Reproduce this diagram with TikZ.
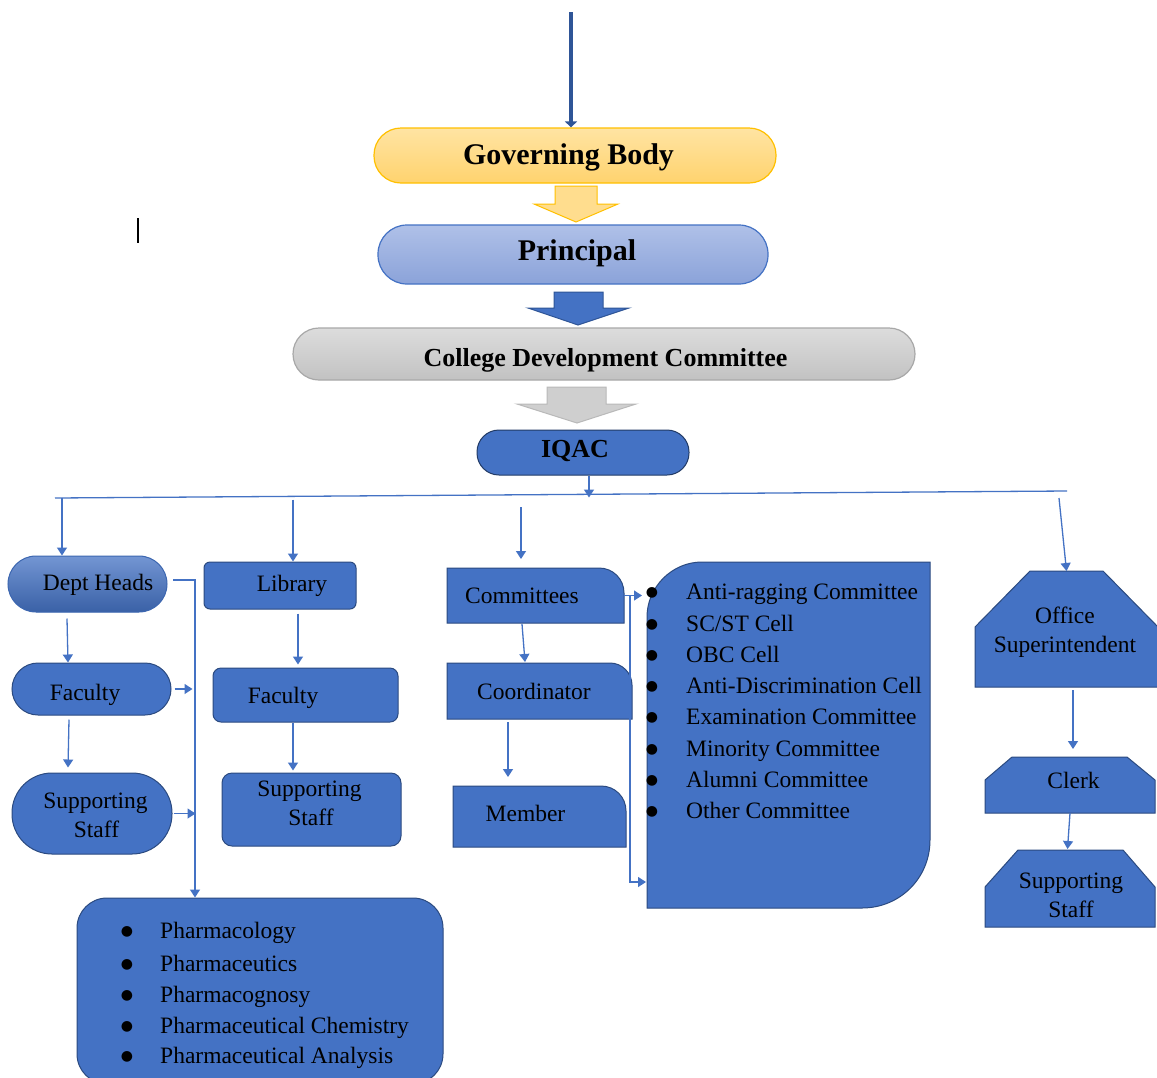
\documentclass[tikz,border=0pt]{standalone}
\usepackage{fontspec}
\setmainfont{Liberation Serif}
\newfontfamily\dejavu{DejaVu Sans}
\usetikzlibrary{arrows.meta,calc}
\definecolor{mblue}{HTML}{4472C4}
\definecolor{cblue}{HTML}{4472C4}
\definecolor{bdark}{HTML}{2B4A80}
\definecolor{navy}{HTML}{2F5597}
\definecolor{gbtop}{HTML}{FFE4A3}
\definecolor{gbbot}{HTML}{FFD36E}
\definecolor{gbline}{HTML}{FFC000}
\definecolor{prtop}{HTML}{AFC0E8}
\definecolor{prbot}{HTML}{8BA3D9}
\definecolor{cdtop}{HTML}{DCDCDC}
\definecolor{cdbot}{HTML}{C2C2C2}
\definecolor{cdline}{HTML}{A8A8A8}
\newcommand{\myrf}{\fontsize{23.5pt}{28pt}\selectfont}
\newcommand{\mybig}{\fontsize{30pt}{36pt}\selectfont\bfseries}
\newcommand{\mymed}{\fontsize{26pt}{31pt}\selectfont\bfseries}
\newcommand{\mybul}{\dejavu\fontsize{14pt}{15pt}\selectfont}
\begin{document}
\begin{tikzpicture}[x=1pt,y=-1pt,
  conn/.style={draw=cblue,line width=1.3pt},
  arr/.style={conn,-{Triangle[width=10pt,length=8pt]}},
  bbox/.style={fill=mblue,draw=bdark,line width=1pt,inner sep=0pt},
  frame/.style={draw=none,fill=none,inner sep=0pt,outer sep=0pt},
  txt/.style={inner sep=0pt,anchor=base,font=\myrf,text=black},
  bul/.style={inner sep=0pt,anchor=base,font=\mybul,text=black},
]
\useasboundingbox (0,0) rectangle (1157,1077);
\clip (0,0) rectangle (1157,1077);
\fill[white] (0,0) rectangle (1157,1077);

% ---------- top chain ----------
\coordinate (top) at (571,12);
\node[top color=gbtop,bottom color=gbbot,draw=gbline,line width=1.2pt,rounded corners=27pt,minimum width=402pt,minimum height=55pt,inner sep=0pt] (gb) at (575,155.5) {};
\node[txt,font=\mybig] (gbt) at (568.5,164) {Governing Body};
\draw[line width=4.5pt,draw=navy,-{Triangle[width=12pt,length=6pt]}] (top) -- (top |- gb.north);

\fill[gbtop!60!gbbot,draw=gbline,line width=1pt] (555,186) -- (597,186) -- (597,204) -- (618,204) -- (576,222) -- (534,204) -- (555,204) -- cycle;

\node[top color=prtop,bottom color=prbot,draw=mblue,line width=1.2pt,rounded corners=29pt,minimum width=390pt,minimum height=59pt,inner sep=0pt] (pr) at (573,254.5) {};
\node[txt,font=\mybig] (prt) at (577,260) {Principal};

\fill[mblue,draw=navy,line width=1pt] (554,292) -- (603,292) -- (603,308) -- (629,308) -- (578,325) -- (528,308) -- (554,308) -- cycle;

\node[top color=cdtop,bottom color=cdbot,draw=cdline,line width=1.2pt,rounded corners=26pt,minimum width=622pt,minimum height=52pt,inner sep=0pt] (cdc) at (604,354) {};
\node[txt,font=\mymed] (cdct) at (605.5,366) {College Development Committee};

\fill[cdtop!50!cdbot,draw=cdline!80,line width=1pt] (547,387) -- (606,387) -- (606,404) -- (636,404) -- (577,423) -- (517,404) -- (547,404) -- cycle;

\node[bbox,draw=bdark!80!black,rounded corners=22pt,minimum width=212pt,minimum height=45pt] (iqac) at (583,452.5) {};
\node[txt,font=\mymed] (iqact) at (575,457) {IQAC};

% ---------- bus ----------
\coordinate (busL) at (55,498);
\coordinate (busR) at (1067,491);
\draw[conn] (busL) -- (busR);
\draw[arr] ($(iqac.south)+(6,0)$) -- ++(0,22);

% ---------- left column: Dept Heads ----------
\node[bbox,top color=mblue!75!white,bottom color=mblue!85!black,draw=mblue!90!black,rounded corners=28pt,minimum width=159pt,minimum height=56pt] (dh) at (87.5,584) {};
\node[txt] (dht) at (98,590) {Dept Heads};
\node[bbox,rounded corners=26pt,minimum width=159pt,minimum height=52pt] (f1) at (91.5,689) {};
\node[txt] (f1t) at (85,700) {Faculty};
\node[bbox,rounded corners=40pt,minimum width=160pt,minimum height=81pt] (s1) at (92,813.5) {};
\node[txt] (s1a) at (95.5,808) {Supporting};
\node[txt] (s1b) at (96.5,837) {Staff};

% ---------- Library column ----------
\node[bbox,rounded corners=6pt,minimum width=152pt,minimum height=47pt] (lib) at (280,585.5) {};
\node[txt] (libt) at (292,591) {Library};
\node[bbox,rounded corners=8pt,minimum width=185pt,minimum height=54pt] (f2) at (305.5,695) {};
\node[txt] (f2t) at (283,703) {Faculty};
\node[bbox,rounded corners=10pt,minimum width=179pt,minimum height=73pt] (s2) at (311.5,809.5) {};
\node[txt] (s2a) at (309.5,796) {Supporting};
\node[txt] (s2b) at (311,825) {Staff};

% ---------- Pharmacy list ----------
\node[bbox,rounded corners=30pt,minimum width=366pt,minimum height=186pt] (ph) at (260,991) {};
\foreach \i/\y/\t in {1/938/{Pharmacology},2/971/{Pharmaceutics},3/1002/{Pharmacognosy},4/1033/{Pharmaceutical Chemistry},5/1063/{Pharmaceutical Analysis}}{
  \node[bul] (pb\i) at (127,\y-3) {●};
  \node[txt,anchor=base west] (pt\i) at (160,\y) {\t};
}

% ---------- Committees column ----------
\node[frame,minimum width=177pt,minimum height=55pt] (com) at (535.5,595.5) {};
\fill[mblue,draw=bdark,line width=1pt] (447,568) -- (599,568) .. controls (613,568) and (624,579) .. (624,593) -- (624,623) -- (447,623) -- cycle;
\node[txt] (comt) at (522,603) {Committees};

\node[frame,minimum width=185pt,minimum height=56pt] (coo) at (539.5,691) {};
\fill[mblue,draw=bdark,line width=1pt] (447,663) -- (610,663) .. controls (622,663) and (632,673) .. (632,685) -- (632,719) -- (447,719) -- cycle;
\node[txt] (coot) at (534,699) {Coordinator};

\node[frame,minimum width=173pt,minimum height=61pt] (mem) at (539.5,816.5) {};
\fill[mblue,draw=bdark,line width=1pt] (453,786) -- (601,786) .. controls (615,786) and (626,797) .. (626,811) -- (626,847) -- (453,847) -- cycle;
\node[txt] (memt) at (525.5,821) {Member};

% ---------- Committee list ----------
\node[frame,minimum width=283pt,minimum height=346pt] (lst) at (788.5,735) {};
\fill[mblue,draw=bdark,line width=1pt] (647,617) .. controls (647,587) and (672,562) .. (702,562) -- (930,562) -- (930,840) .. controls (930,878) and (900,908) .. (862,908) -- (647,908) -- cycle;
\foreach \i/\y/\t in {1/599/{Anti-ragging Committee},2/631/{SC/ST Cell},3/662/{OBC Cell},4/693/{Anti-Discrimination Cell},5/724/{Examination Committee},6/756/{Minority Committee},7/787/{Alumni Committee},8/818/{Other Committee}}{
  \node[bul] (lb\i) at (652,\y-3) {●};
  \node[txt,anchor=base west] (lt\i) at (686,\y) {\t};
}

% ---------- Office column ----------
\node[frame,minimum width=183pt,minimum height=116pt] (os) at (1066.5,629) {};
\fill[mblue,draw=bdark,line width=1pt] (1030,571) -- (1103,571) -- (1158,627) -- (1158,687) -- (975,687) -- (975,627) -- cycle;
\node[txt] (osa) at (1065,623) {Office};
\node[txt] (osb) at (1065,652) {Superintendent};

\node[frame,minimum width=170pt,minimum height=56pt] (clk) at (1070,785) {};
\fill[mblue,draw=bdark,line width=1pt] (1012,757) -- (1127,757) -- (1155,780) -- (1155,813) -- (985,813) -- (985,780) -- cycle;
\node[txt] (clkt) at (1073.5,788) {Clerk};

\node[frame,minimum width=171pt,minimum height=78pt] (s3) at (1069.5,888) {};
\fill[mblue,draw=bdark,line width=1pt] (1018,850) -- (1123,850) -- (1155,887) -- (1155,927) -- (985,927) -- (985,887) -- cycle;
\node[txt] (s3a) at (1071,888) {Supporting};
\node[txt] (s3b) at (1071,917) {Staff};

% ---------- connectors ----------
\draw[arr] ($(dh.north)+(-25.5,-58)$) -- ($(dh.north)+(-25.5,0)$);
\draw[arr] ($(lib.north)+(13,-62)$) -- ($(lib.north)+(13,0)$);
\draw[arr] ($(com.north)+(-14.5,-61)$) -- ($(com.north)+(-14.5,-9)$);
\draw[arr] ($(os.north)+(-7.5,-73)$) -- (os.north);

\draw[arr] ($(dh.south)+(-20.5,6)$) -- ($(f1.north)+(-23.5,0)$);
\draw[arr] ($(f1.south)+(-22.5,4)$) -- ($(s1.north)+(-24,-5)$);
\draw[arr] ($(dh.east)+(5.5,-4)$) -| ($(ph.north)+(-65,0)$);
\draw[arr] ($(f1.east)+(3,0)$) -- ($(f1.east)+(21,0)$);
\draw[arr] ($(s1.east)+(1,0)$) -- ($(s1.east)+(23,0)$);

\draw[arr] ($(lib.south)+(18,4)$) -- ($(f2.north)+(-7.5,-3)$);
\draw[arr] ($(f2.south)+(-12.5,0)$) -- ($(s2.north)+(-18.5,-2)$);

\draw[arr] ($(com.south)+(-13.5,1)$) -- ($(coo.north)+(-14.5,-1)$);
\draw[arr] ($(coo.south)+(-31.5,3)$) -- ($(mem.north)+(-31.5,-9)$);
\draw[arr] (com.east) -- ($(com.east)+(18,0)$);
\draw[arr] ($(com.east)+(6,0)$) |- ($(lst.west)+(-1,147)$);

\draw[arr] ($(os.south)+(6.5,3)$) -- ($(clk.north)+(3,-8)$);
\draw[arr] (clk.south) -- ($(s3.north)+(-2,0)$);

% stray text cursor
\coordinate (cur1) at (138,218);
\coordinate (cur2) at (138,243);
\draw[black,line width=1.5pt] (cur1) -- (cur2);
\end{tikzpicture}
\end{document}
